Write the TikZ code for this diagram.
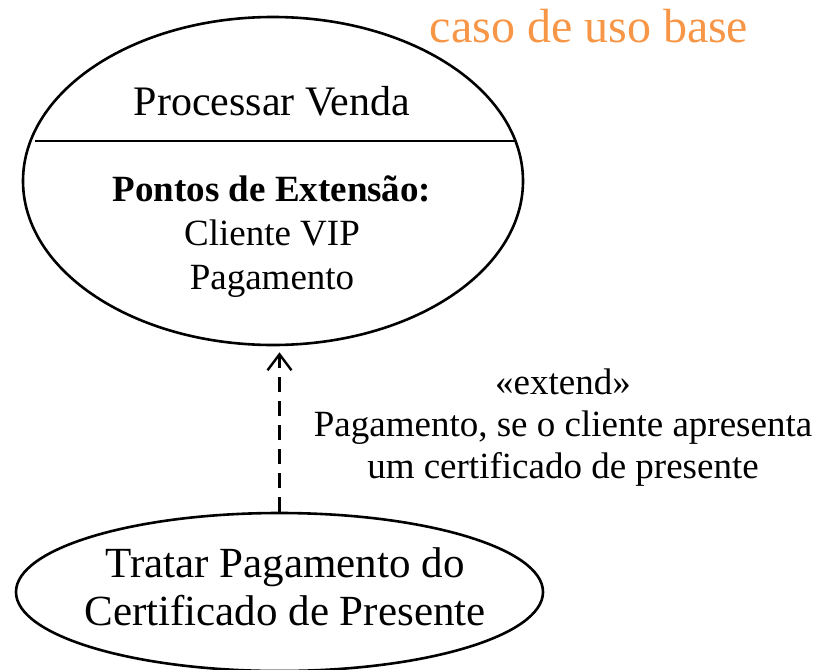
\documentclass[tikz,border=0pt]{standalone}
\usepackage{fontspec}
\setmainfont{Liberation Serif}
\usepackage{tikz}
\usetikzlibrary{arrows.meta,shapes.geometric}
\definecolor{baseorange}{RGB}{247,150,70}

\begin{document}
\begin{tikzpicture}[x=1pt,y=-1pt,
  usecase/.style={draw,ellipse,line width=2.6pt,inner sep=0pt},
  extendarrow/.style={dashed,dash pattern=on 15pt off 9pt,line width=2.4pt,
    -{Straight Barb[length=16pt,width=24pt,line width=2.4pt]},shorten >=6pt}]
\useasboundingbox (0,0) rectangle (821,669);
\node[usecase,minimum width=500,minimum height=328] (base) at (273,181) {};
\draw[line width=2.4pt] ([shift={(-238,-40)}]base.center) -- ([shift={(243,-40)}]base.center);
\node[anchor=base,font=\fontsize{42}{48}\selectfont] (name) at (272,115) {Processar Venda};
% base anchor sits on the last line
\node[anchor=base,align=center,font=\fontsize{37}{44}\selectfont] (points) at (272,289)
  {\textbf{Pontos de Extensão:}\\ Cliente VIP\\ Pagamento};
\node[anchor=base,text=baseorange,font=\fontsize{48}{56}\selectfont] (title) at (589,43) {caso de uso base};
\node[usecase,minimum width=527,minimum height=158] (ext) at (279.5,592) {};
\node[anchor=base,align=center,font=\fontsize{43}{48}\selectfont] (extname) at (285,625)
  {Tratar Pagamento do\\ Certificado de Presente};
\draw[extendarrow] (ext.north) -- (ext.north |- base.south);
\node[anchor=base,align=center,font=\fontsize{37}{42}\selectfont] (cond) at (563,478)
  {«extend»\\ Pagamento, se o cliente apresenta\\ um certificado de presente};
\end{tikzpicture}
\end{document}
